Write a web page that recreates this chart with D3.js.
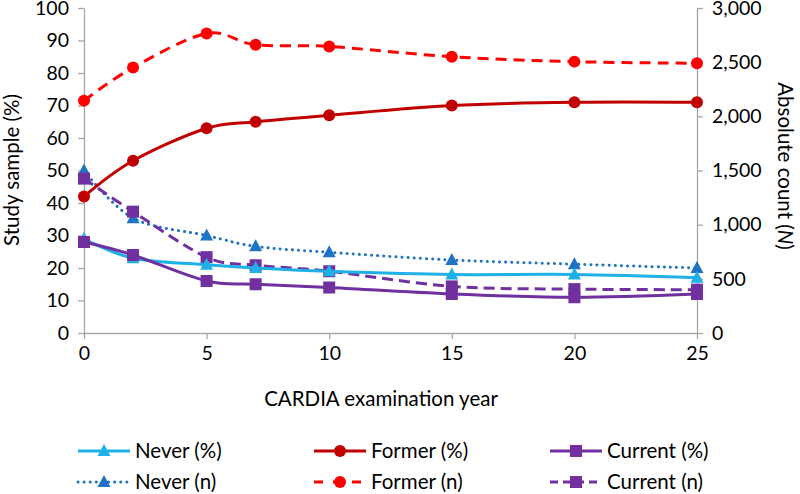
<!DOCTYPE html>
<html><head><meta charset="utf-8">
<script src="https://cdn.jsdelivr.net/npm/d3@7"></script>
<style>body{margin:0;background:#fff}svg{display:block;font-family:Lato,sans-serif}</style>
</head><body><svg id="c" width="800" height="494"></svg>
<script>
const years = [0, 2, 5, 7, 10, 15, 20, 25];
const neverPct = [29, 23, 21, 20, 19, 18, 18, 17];
const formerPct = [42, 53, 63, 65, 67, 70, 71, 71];
const currentPct = [28, 24, 16, 15, 14, 12, 11, 12];
const neverN = [1500, 1060, 900, 800, 745, 674, 635, 600];
const formerN = [2145, 2450, 2765, 2660, 2645, 2550, 2505, 2490];
const currentN = [1425, 1120, 700, 625, 570, 430, 405, 400];
const xTicks = [0, 5, 10, 15, 20, 25];
const leftTicks = [0,10,20,30,40,50,60,70,80,90,100];
const rightTicks = [0,500,1000,1500,2000,2500,3000];

const svg = d3.select("#c");
const L = 84, R = 697, T = 8, B = 333;
const x = d3.scaleLinear().domain([0,25]).range([L,R]);
const yL = d3.scaleLinear().domain([0,100]).range([B,T]);
const yR = d3.scaleLinear().domain([0,3000]).range([B,T]);
const grey = "#a6a6a6", fs = 20.5, tfs = 19.5;

function styleAxis(g){
  g.select(".domain").attr("stroke",grey).attr("stroke-width",1.3);
  g.selectAll(".tick line").attr("stroke",grey).attr("stroke-width",1.3);
  g.selectAll(".tick text").attr("fill","#000").style("font-size",tfs+"px").style("font-family","Lato,sans-serif");
}
svg.append("g").attr("transform",`translate(0,${B})`)
  .call(d3.axisBottom(x).tickValues(xTicks).tickSize(6).tickPadding(7).tickSizeOuter(0)).call(styleAxis);
svg.append("g").attr("transform",`translate(${L},0)`)
  .call(d3.axisLeft(yL).tickValues(leftTicks).tickSize(6).tickPadding(9).tickSizeOuter(0)).call(styleAxis);
svg.append("g").attr("transform",`translate(${R},0)`)
  .call(d3.axisRight(yR).tickValues(rightTicks).tickFormat(d3.format(",")).tickSize(6).tickPadding(9).tickSizeOuter(0)).call(styleAxis);

// axis titles
svg.append("text").attr("x",381).attr("y",406).attr("text-anchor","middle").style("font-size",fs+"px").text("CARDIA examination year");
svg.append("text").attr("transform",`translate(19,170) rotate(-90)`).attr("text-anchor","middle").style("font-size",fs+"px").text("Study sample (%)");
const rt = svg.append("text").attr("transform",`translate(778,166) rotate(90)`).attr("text-anchor","middle").style("font-size",fs+"px");
rt.append("tspan").text("Absolute count (");
rt.append("tspan").attr("font-style","italic").text("N");
rt.append("tspan").text(")");

const series = [
  {name:"Never (n)", vals:neverN, y:yR, color:"#1f72c4", dash:"0.1 6", cap:"round", marker:"tri"},
  {name:"Current (n)", vals:currentN, y:yR, color:"#7030a0", dash:"11 6", cap:"butt", marker:"sq"},
  {name:"Former (n)", vals:formerN, y:yR, color:"#ff0000", dash:"11 7", cap:"butt", marker:"circ"},
  {name:"Never (%)", vals:neverPct, y:yL, color:"#1fb0e8", dash:null, marker:"tri"},
  {name:"Former (%)", vals:formerPct, y:yL, color:"#c00000", dash:null, marker:"circ"},
  {name:"Current (%)", vals:currentPct, y:yL, color:"#7030a0", dash:null, marker:"sq"},
];
const curve = d3.curveCatmullRom.alpha(0);

function marker(g, type, cx, cy, color){
  if(type==="circ") g.append("circle").attr("cx",cx).attr("cy",cy).attr("r",6).attr("fill",color);
  else if(type==="sq") g.append("rect").attr("x",cx-6).attr("y",cy-6).attr("width",12).attr("height",12).attr("fill",color);
  else g.append("path").attr("d",`M${cx},${cy-7}L${cx+6.5},${cy+5}L${cx-6.5},${cy+5}Z`).attr("fill",color);
}

series.forEach(s=>{
  const line = d3.line().x((d,i)=>x(years[i])).y(d=>s.y(d)).curve(curve);
  svg.append("path").attr("d",line(s.vals)).attr("fill","none").attr("stroke",s.color)
    .attr("stroke-width",3).attr("stroke-dasharray",s.dash).attr("stroke-linecap",s.cap||"butt");
  const g = svg.append("g");
  s.vals.forEach((v,i)=>marker(g,s.marker,x(years[i]),s.y(v),s.color));
});

// legend
const legend = [
  {s:series[3], lx:78, ly:451},{s:series[4], lx:314, ly:451},{s:series[5], lx:550, ly:451},
  {s:series[0], lx:78, ly:482},{s:series[2], lx:314, ly:482},{s:series[1], lx:550, ly:482}
];
const lg = svg.append("g");
legend.forEach(l=>{
  const s=l.s;
  let dash = s.dash;
  if(s.name==="Never (n)") dash="0.1 6";
  if(s.name==="Former (n)") dash="9 10";
  if(s.name==="Current (n)") dash="8 5";
  lg.append("line").attr("x1",l.lx).attr("x2",l.lx+52).attr("y1",l.ly).attr("y2",l.ly)
    .attr("stroke",s.color).attr("stroke-width",3).attr("stroke-dasharray",dash).attr("stroke-linecap",s.cap||"butt");
  marker(lg,s.marker,l.lx+26,l.ly,s.color);
  lg.append("text").attr("x",l.lx+57).attr("y",l.ly).attr("dy","0.36em").style("font-size",fs+"px").text(s.name);
});
</script></body></html>
